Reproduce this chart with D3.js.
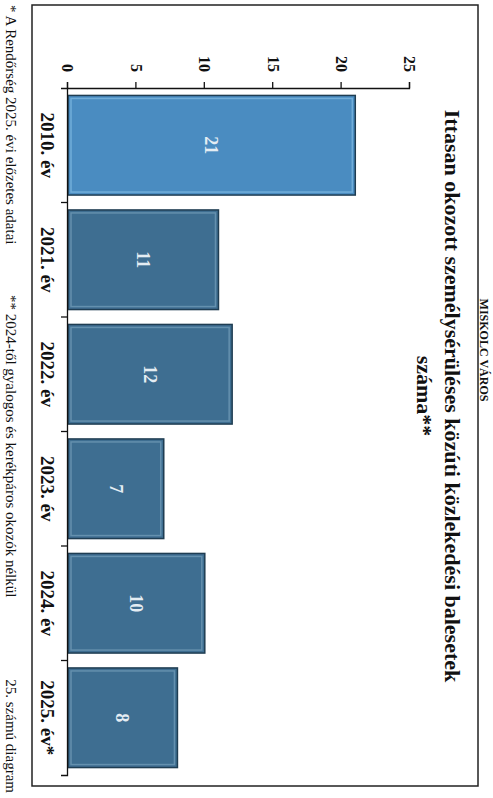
<!DOCTYPE html>
<meta charset="utf-8">
<title>Ittasan okozott balesetek</title>

<style>
    body { margin: 0; background: #fff; }
    svg text { font-family: "Liberation Serif", "Times New Roman", serif; fill: #111; }
    .axis path, .axis line { stroke: #111; stroke-width: 1.3px; }
    .axis text { font-size: 16px; font-weight: bold; }
    .cat text { font-size: 19px; font-weight: bold; }
    .title { font-size: 22px; font-weight: bold; }
    .note { font-size: 15px; }
</style>

<body>
<script src="https://cdnjs.cloudflare.com/ajax/libs/d3/7.8.5/d3.min.js"></script>

<script>
// data
var categories = ["2010. év", "2021. év", "2022. év", "2023. év", "2024. év", "2025. év*"];
var values = [21, 11, 12, 7, 10, 8];
var valueTicks = [0, 5, 10, 15, 20, 25];
var titleLines = ["Ittasan okozott személysérüléses közúti közlekedési balesetek", "száma**"];
var notes = ["* A Rendőrség 2025. évi előzetes adatai", "** 2024-től gyalogos és kerékpáros okozók nélkül", "25. számú diagram"];

// page is scanned sideways, so draw everything in a group turned 90 degrees
var W = 493, H = 798;
var svg = d3.select("body").append("svg")
    .attr("width", W)
    .attr("height", H);

var g = svg.append("g")
    .attr("transform", "translate(" + W + ",0) rotate(90)");

// frame of the chart
g.append("rect")
    .attr("x", 5).attr("y", 15)
    .attr("width", 781).attr("height", 446)
    .attr("fill", "none")
    .attr("stroke", "#222")
    .attr("stroke-width", 1.5);

// page header above the frame
g.append("text")
    .attr("x", 350).attr("y", 13)
    .attr("text-anchor", "middle")
    .style("font-size", "12px")
    .style("font-weight", "bold")
    .text("MISKOLC VÁROS");

// scales
var x = d3.scaleBand()
    .domain(categories)
    .range([88, 775])
    .paddingInner(0.13)
    .paddingOuter(0.065);

var y = d3.scaleLinear()
    .domain([0, 25])
    .range([425, 83]);

// bars
var bars = g.selectAll(".bar")
    .data(values)
    .enter().append("g")
    .attr("class", "bar");

bars.append("rect")
    .attr("x", function(d, i) { return x(categories[i]); })
    .attr("y", function(d) { return y(d); })
    .attr("width", x.bandwidth())
    .attr("height", function(d) { return y(0) - y(d); })
    .attr("fill", function(d, i) { return i == 0 ? "#4a8cc1" : "#3e6e91"; })
    .attr("stroke", "#1f3d52")
    .attr("stroke-width", 1.5);

// bevel highlight
bars.append("rect")
    .attr("x", function(d, i) { return x(categories[i]) + 3; })
    .attr("y", function(d) { return y(d) + 3; })
    .attr("width", x.bandwidth() - 6)
    .attr("height", function(d) { return y(0) - y(d) - 6; })
    .attr("fill", "none")
    .attr("stroke", function(d, i) { return i == 0 ? "#8cc4ea" : "#7fa6c2"; })
    .attr("stroke-opacity", 0.6)
    .attr("stroke-width", 1.5);

bars.append("text")
    .attr("x", function(d, i) { return x(categories[i]) + x.bandwidth() / 2; })
    .attr("y", function(d) { return (y(d) + y(0)) / 2; })
    .attr("dy", "0.35em")
    .attr("text-anchor", "middle")
    .style("font-size", "18px")
    .style("font-weight", "bold")
    .style("fill", "#e4edf3")
    .text(function(d) { return d; });

// value axis
g.append("g")
    .attr("class", "axis")
    .attr("transform", "translate(88,0)")
    .call(d3.axisLeft(y).tickValues(valueTicks).tickSize(6).tickPadding(10));

// category axis, ticks sit between the bars
var catAxis = g.append("g")
    .attr("class", "axis cat")
    .attr("transform", "translate(0,425)")
    .call(d3.axisBottom(x).tickSize(0).tickSizeOuter(7).tickPadding(14));

catAxis.selectAll(".divider")
    .data(categories.slice(1))
    .enter().append("line")
    .attr("class", "divider")
    .attr("x1", function(d) { return x(d) - x.step() * x.paddingInner() / 2; })
    .attr("x2", function(d) { return x(d) - x.step() * x.paddingInner() / 2; })
    .attr("y1", 0)
    .attr("y2", 7);

// title
g.selectAll(".title")
    .data(titleLines)
    .enter().append("text")
    .attr("class", "title")
    .attr("x", 396)
    .attr("y", function(d, i) { return 48 + i * 28; })
    .attr("text-anchor", "middle")
    .text(function(d) { return d; });

// notes under the frame, the last one ends at the page edge
var noteX = [5, 295, 793];
g.selectAll(".note")
    .data(notes)
    .enter().append("text")
    .attr("class", "note")
    .attr("x", function(d, i) { return noteX[i]; })
    .attr("y", 487)
    .attr("text-anchor", function(d, i) { return i == 2 ? "end" : "start"; })
    .text(function(d) { return d; });
</script>
</body>
